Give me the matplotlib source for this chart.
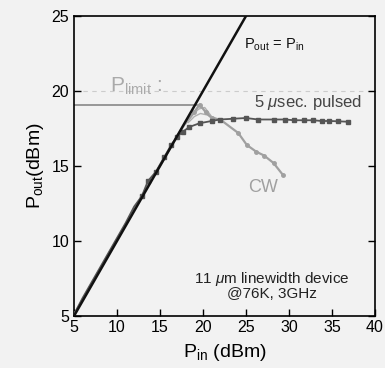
import numpy as np
import matplotlib.pyplot as plt

plt.rcParams['font.family'] = ['Liberation Sans', 'DejaVu Sans']
plt.rcParams['mathtext.fontset'] = 'custom'
plt.rcParams['mathtext.rm'] = 'Liberation Sans'
plt.rcParams['mathtext.it'] = 'Liberation Sans:italic'

# Pout = Pin reference
ref_x = [5, 25]
ref_y = [5, 25]

# 5 usec pulsed
pulsed_x = [5, 6, 7, 8, 9, 10, 11, 12, 12.9, 13.6, 14.5, 15.5, 16.3, 17.0, 17.7, 18.4,
            19.6, 21.0, 22.0, 23.5, 25.0, 26.4, 28.2, 29.5, 30.6, 31.7, 32.8, 33.8,
            34.7, 35.7, 36.9]
pulsed_y = [5.1, 6.2, 7.2, 8.2, 9.2, 10.2, 11.2, 12.3, 13.0, 14.0, 14.6, 15.6, 16.4, 16.95,
            17.3, 17.6, 17.85, 18.0, 18.1, 18.15, 18.2, 18.1, 18.1, 18.1, 18.05, 18.05,
            18.05, 18.0, 18.0, 17.98, 17.95]

# CW (a few overlapping sweeps near the peak)
cw_x = [5, 6, 7, 8, 9, 10, 11, 12, 13, 14, 15, 16, 17, 18, 19, 19.6, 20.3, 21.0, 22.0,
        24.1, 25.1, 26.2, 27.1, 28.2, 29.3]
cw_y = [5.1, 6.1, 7.1, 8.1, 9.1, 10.1, 11.1, 12.1, 13.1, 14.1, 15.0, 16.0, 17.0, 17.9,
        18.6, 19.1, 18.6, 18.2, 18.1, 17.2, 16.4, 15.95, 15.7, 15.2, 14.4]
cw2_x = [18.0, 18.8, 19.5, 20.2, 21.0, 22.0]
cw2_y = [17.8, 18.4, 18.8, 18.9, 18.3, 18.05]
cw3_x = [18.3, 19.0, 19.7, 20.5, 21.5]
cw3_y = [17.9, 18.3, 18.5, 18.4, 18.1]

# P_limit line
plim_x = [5, 19.3]
plim_y = [19.1, 19.1]

bg = '#f2f2f2'
fig = plt.figure(figsize=(3.85, 3.68), dpi=100, facecolor=bg)
ax = fig.add_axes([74/385, 1 - 316/368, 301/385, 300/368], facecolor=bg)

ax.axhline(20, color='#cccccc', lw=0.8, ls=(0, (4, 4)), zorder=1)
ax.plot(plim_x, plim_y, color='#888888', lw=1.2, zorder=2)
ax.plot(cw2_x, cw2_y, color='#b0b0b0', lw=1.0, zorder=2)
ax.plot(cw3_x, cw3_y, color='#b0b0b0', lw=1.0, zorder=2)
ax.plot(cw_x, cw_y, color='#a0a0a0', lw=1.6, marker='o', ms=2.5, zorder=3,
        markevery=list(range(14, len(cw_x))))
ax.plot(pulsed_x, pulsed_y, color='#555555', lw=1.3, marker='s', ms=3.5, zorder=4,
        markevery=list(range(8, len(pulsed_x))))
ax.plot(ref_x, ref_y, color='#111111', lw=1.8, zorder=5)

ax.set_xlim(5, 40)
ax.set_ylim(5, 25)
ax.set_xticks(np.arange(5, 41, 5))
ax.set_yticks(np.arange(5, 26, 5))
ax.tick_params(direction='in', length=5, width=1, labelsize=11.5, top=False, right=True)
ax.tick_params(axis='x', pad=3)
for s in ax.spines.values():
    s.set_linewidth(1.2)

ax.text(24.8, 22.8, r'P$_{\rm out}$ = P$_{\rm in}$', fontsize=10.5, color='#111111')
ax.text(9.2, 19.95, r'P$_{\rm limit}$ :', fontsize=15, color='#aaaaaa')
ax.text(32.2, 19.25, r'5 $\mu$sec. pulsed', fontsize=12, color='#444444', ha='center', va='center')
ax.text(27.0, 13.6, 'CW', fontsize=13, color='#a0a0a0', ha='center', va='center')
ax.text(28.0, 7.45, '11 $\\mu$m linewidth device', fontsize=11, color='#222222', ha='center', va='center')
ax.text(28.0, 6.45, '@76K, 3GHz', fontsize=11, color='#222222', ha='center', va='center')

ax.set_xlabel(r'P$_{\rm in}$ (dBm)', fontsize=14, labelpad=5)
ax.set_ylabel(r'P$_{\rm out}$(dBm)', fontsize=14, labelpad=4)

fig.savefig('out.png', dpi=100, facecolor=bg)
